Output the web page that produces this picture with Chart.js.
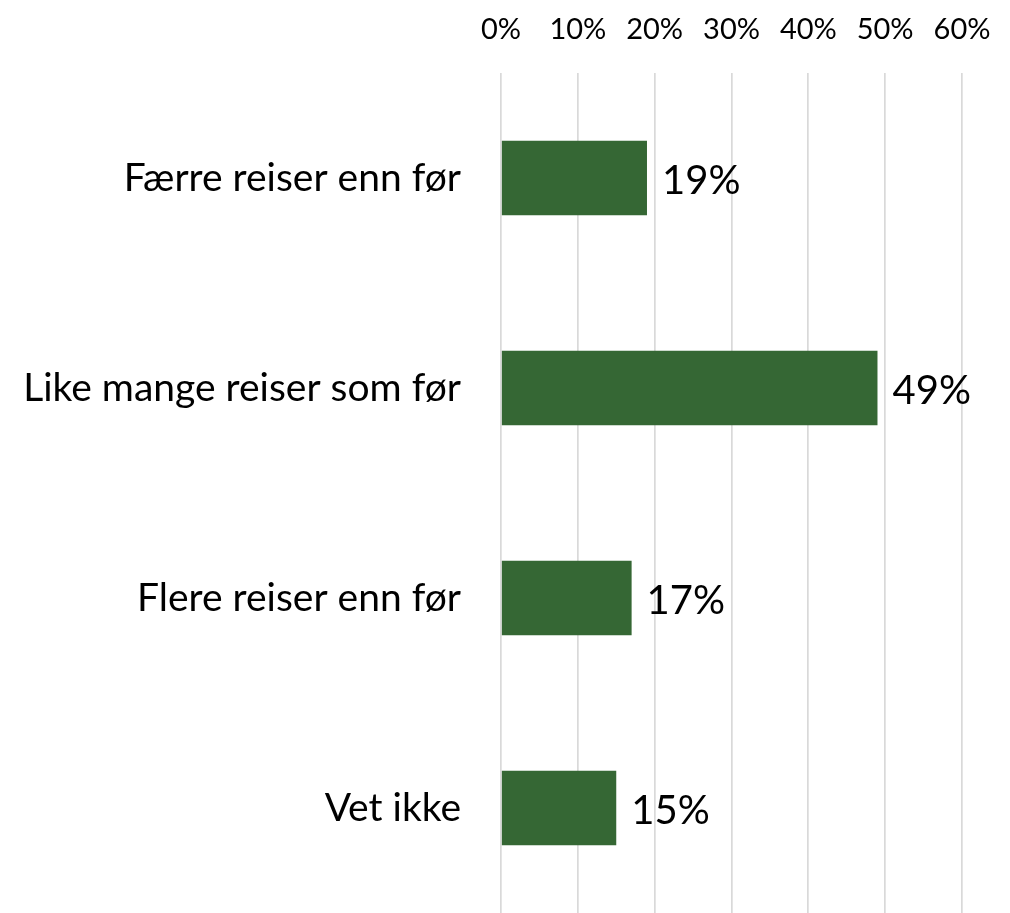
<!DOCTYPE html>
<html>
<head>
<meta charset="utf-8">
<script src="https://cdn.jsdelivr.net/npm/chart.js@4"></script>
<style>
  html, body { margin: 0; padding: 0; background: #fff; overflow: hidden; }
</style>
</head>
<body>
<canvas id="chart" width="1010" height="913"></canvas>
<script>
const categories = ["Færre reiser enn før", "Like mange reiser som før", "Flere reiser enn før", "Vet ikke"];
const values = [19, 49, 17, 15];  // percent
const axisMax = 60;
const axisStep = 10;

const fontFamily = "Lato, 'Open Sans', sans-serif";
const barColor = "#356734";

// draws "19%" etc. just right of each bar end
const valueLabels = {
    id: "valueLabels",
    afterDatasetsDraw(chart) {
        const ctx = chart.ctx;
        const meta = chart.getDatasetMeta(0);
        ctx.save();
        ctx.font = "40px " + fontFamily;
        ctx.fillStyle = "#000";
        ctx.textAlign = "left";
        ctx.textBaseline = "middle";
        meta.data.forEach((bar, i) => {
            ctx.fillText(values[i] + "%", bar.x + 15, bar.y + 3);
        });
        ctx.restore();
    }
};

const ctx = document.getElementById("chart").getContext("2d");
new Chart(ctx, {
    type: "bar",
    data: {
        labels: categories,
        datasets: [{
            data: values,
            backgroundColor: barColor,
            borderWidth: 0,
            categoryPercentage: 1,
            barPercentage: 0.355
        }]
    },
    options: {
        indexAxis: "y",
        responsive: false,
        animation: false,
        layout: { padding: 0 },
        plugins: {
            legend: { display: false },
            tooltip: { enabled: false }
        },
        scales: {
            x: {
                position: "top",
                min: 0,
                max: axisMax,
                ticks: {
                    stepSize: axisStep,
                    padding: 26,
                    color: "#000",
                    font: { family: fontFamily, size: 29 },
                    callback: v => v + "%"
                },
                grid: { color: "#d9d9d9", lineWidth: 1.7, drawTicks: false },
                border: { display: false },
                afterFit: scale => {
                    scale.height = 73;
                    scale.paddingLeft = 0;
                    scale.paddingRight = 48;
                }
            },
            y: {
                ticks: {
                    padding: 32,
                    color: "#000",
                    font: { family: fontFamily, size: 39 }
                },
                grid: { display: false },
                border: { display: false },
                afterFit: scale => {
                    scale.width = 501;
                    scale.paddingTop = 0;
                    scale.paddingBottom = 0;
                }
            }
        }
    },
    plugins: [valueLabels]
});
</script>
</body>
</html>
